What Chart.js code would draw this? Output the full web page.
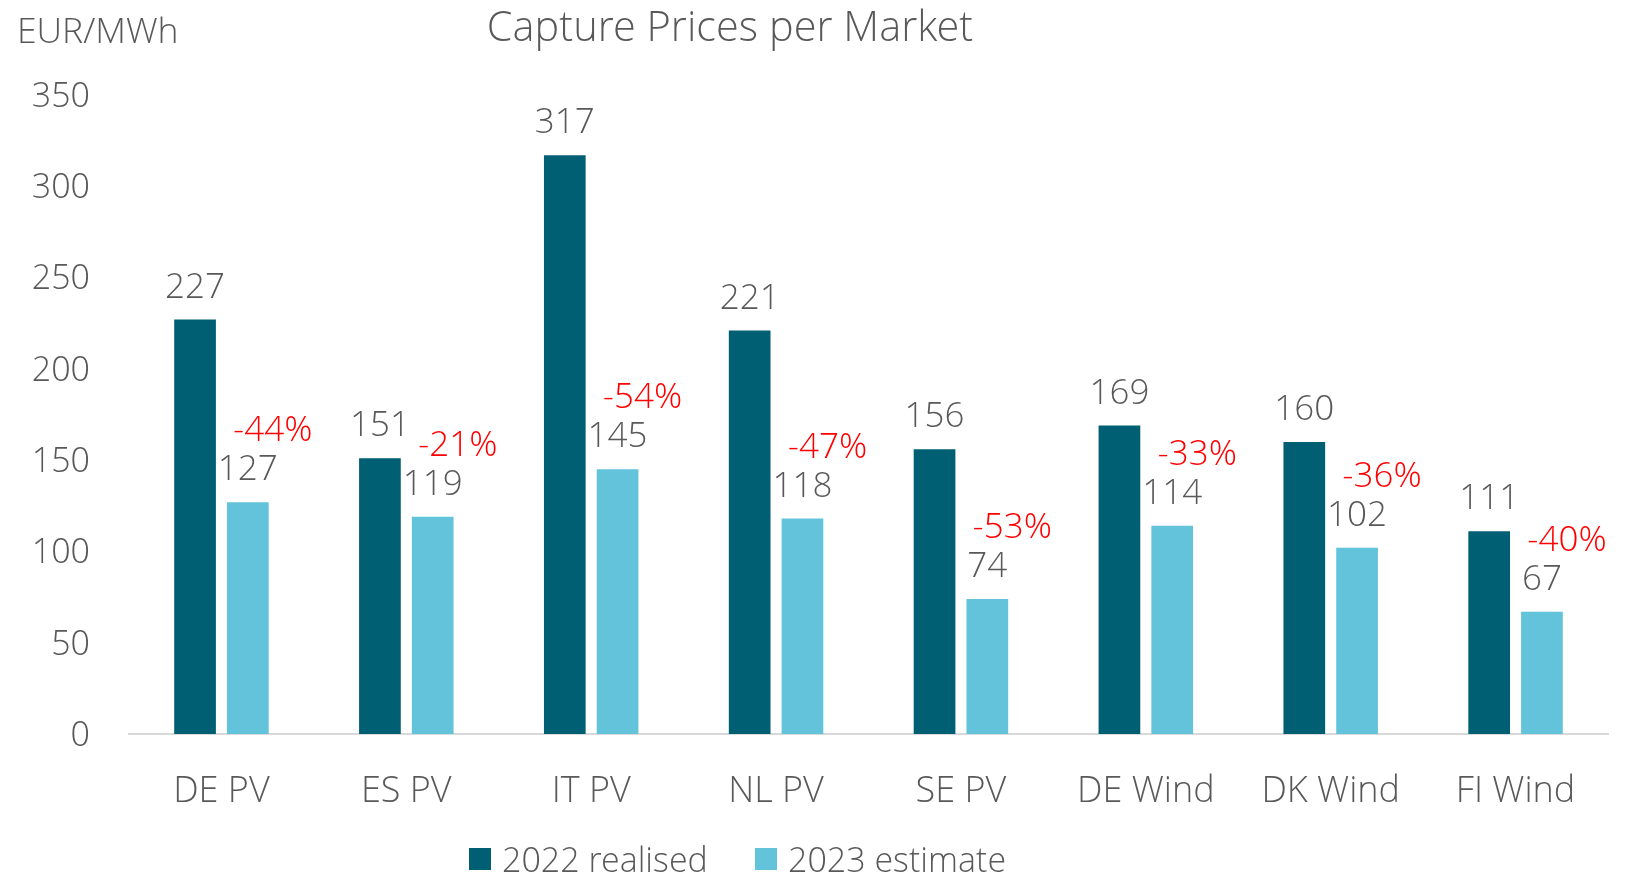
<!DOCTYPE html>
<html>
<head>
<meta charset="utf-8">
<script src="https://cdn.jsdelivr.net/npm/chart.js@4/dist/chart.umd.min.js"></script>
<style>
html,body{margin:0;padding:0;background:#fff;}
#wrap{width:1639px;height:878px;position:relative;}
</style>
</head>
<body>
<div id="wrap"><canvas id="c" width="1639" height="878"></canvas></div>
<script>
const categories = ["DE PV","ES PV","IT PV","NL PV","SE PV","DE Wind","DK Wind","FI Wind"];
const realised2022 = [227,151,317,221,156,169,160,111];
const estimate2023 = [127,119,145,118,74,114,102,67];
const changeLabels = ["-44%","-21%","-54%","-47%","-53%","-33%","-36%","-40%"];
const yTicks = [0,50,100,150,200,250,300,350];
const seriesNames = ["2022 realised","2023 estimate"];

const FONT = '"Open Sans Light", "Open Sans", "Segoe UI", sans-serif';
const GREY = '#595959';
const DARK = '#005F73';
const LIGHT = '#62C3DA';

const overlay = {
  id: 'overlay',
  afterDatasetsDraw(chart) {
    const ctx = chart.ctx;
    ctx.save();
    ctx.textAlign = 'center';
    ctx.textBaseline = 'middle';
    ctx.font = '300 35px ' + FONT;
    const m0 = chart.getDatasetMeta(0), m1 = chart.getDatasetMeta(1);
    m0.data.forEach((b, i) => {
      ctx.fillStyle = GREY;
      ctx.fillText(String(realised2022[i]), b.x, b.y - 31);
    });
    m1.data.forEach((b, i) => {
      ctx.fillStyle = GREY;
      ctx.fillText(String(estimate2023[i]), b.x, b.y - 31);
      ctx.fillStyle = '#FF0000';
      ctx.fillText(changeLabels[i], b.x + 25, b.y - 70);
    });
    // title & unit
    ctx.fillStyle = GREY;
    ctx.font = '300 41.5px ' + FONT;
    ctx.fillText('Capture Prices per Market', 730, 30);
    ctx.textAlign = 'left';
    ctx.font = '300 35.5px ' + FONT;
    ctx.fillText('EUR/MWh', 17, 34);
    // legend
    ctx.font = '300 34px ' + FONT;
    const ly = 859;
    let x = 469;
    chart.data.datasets.forEach((ds, i) => {
      ctx.fillStyle = ds.backgroundColor;
      ctx.fillRect(x, ly - 11, 22, 22);
      ctx.fillStyle = GREY;
      ctx.fillText(ds.label, x + 33, ly + 4);
      x = 755;
    });
    ctx.restore();
  }
};

new Chart(document.getElementById('c'), {
  type: 'bar',
  data: {
    labels: categories,
    datasets: [
      {label: seriesNames[0], data: realised2022, backgroundColor: DARK, categoryPercentage: 0.571, barPercentage: 0.79},
      {label: seriesNames[1], data: estimate2023, backgroundColor: LIGHT, categoryPercentage: 0.571, barPercentage: 0.79}
    ]
  },
  options: {
    responsive: false,
    animation: false,
    layout: {padding: {top: 95, right: 31, left: 0, bottom: 0}},
    plugins: {legend: {display: false}, title: {display: false}, tooltip: {enabled: false}},
    scales: {
      x: {
        grid: {display: false, drawTicks: false},
        border: {display: true, color: '#D9D9D9', width: 2},
        ticks: {color: GREY, font: {family: FONT, size: 36, weight: 300}, padding: 37},
        afterFit(s) { s.height = 144; }
      },
      y: {
        min: 0, max: 350,
        afterBuildTicks(s) { s.ticks = yTicks.map(v => ({value: v})); },
        grid: {display: false, drawTicks: false},
        border: {display: false},
        ticks: {color: GREY, font: {family: FONT, size: 34, weight: 300}, padding: 39, labelOffset: 3},
        afterFit(s) { s.width = 129; }
      }
    }
  },
  plugins: [overlay]
});
</script>
</body>
</html>
